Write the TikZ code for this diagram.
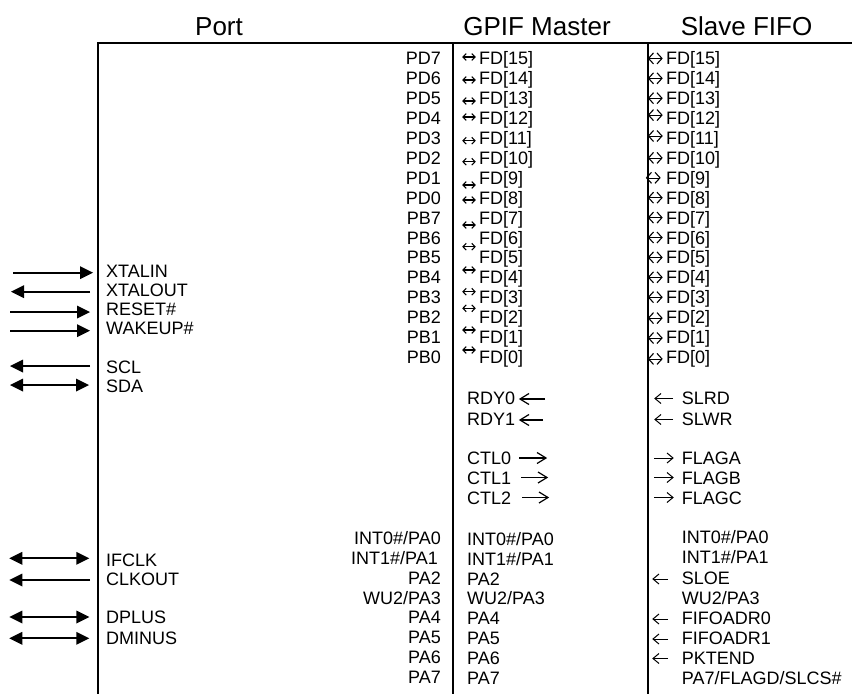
\documentclass[tikz,border=0pt]{standalone}
\usepackage{fontspec}
\setmainfont{Liberation Sans}
\usetikzlibrary{arrows.meta}
\newcommand\bodyfont{\fontsize{18}{20}\selectfont}
\newcommand\headfont{\fontsize{26}{30}\selectfont}
% filled triangle head: x, y, direction (1 = right, -1 = left)
\newcommand\trihead[3]{\fill ({#1},{#2}) -- ({#1-13*#3},{#2-6.5}) -- ({#1-13*#3},{#2+6.5}) -- cycle;}
% open chevron head: x, y, direction, length, half height, line width
\newcommand\chevhead[6]{\draw[line width=#6,line join=miter,line cap=butt] ({#1-#3*#4},{#2-#5}) -- ({#1},{#2}) -- ({#1-#3*#4},{#2+#5});}
\begin{document}
\begin{tikzpicture}[x=1pt,y=-1pt,
  lr/.style={anchor=base east, inner sep=0pt, font=\bodyfont},
  ll/.style={anchor=base west, inner sep=0pt, font=\bodyfont},
  hd/.style={anchor=base, inner sep=0pt, font=\headfont},
  frame/.style={line width=1.6pt},
  bigline/.style={line width=1.7pt},
  gline/.style={line width=1.1pt},
  sline/.style={line width=0.6pt},
  tline/.style={line width=1.2pt},
  shline/.style={line width=1pt}
]
\useasboundingbox (0,0) rectangle (852,694);
% frame
\draw[frame] (97,43) -- (852,43);
\draw[frame] (98,43) -- (98,694);
\draw[frame] (452.7,43) -- (452.7,694);
\draw[frame] (647.7,43) -- (647.7,694);
% headers
\node[hd] (hport) at (219,35) {Port};
\node[hd] (hgpif) at (537,35) {GPIF Master};
\node[hd] (hslave) at (746.6,35) {Slave FIFO};
% data rows
\foreach \pl/\fd [count=\i from 0] in {PD7/15,PD6/14,PD5/13,PD4/12,PD3/11,PD2/10,PD1/9,PD0/8,PB7/7,PB6/6,PB5/5,PB4/4,PB3/3,PB2/2,PB1/1,PB0/0}{
  \pgfmathsetmacro\yb{58.4+19.9*\i+6.5}
  \node[lr] (p\i) at (441,\yb) {\pl};
  \node[ll] (g\i) at (479,\yb) {FD[\fd]};
  \node[ll] (s\i) at (666,\yb) {FD[\fd]};
}
% GPIF small arrows
\foreach \yy [count=\i] in {57,80,101,117,140.7,161.7,185,200,225,246.7,270,291.7,308.3,330,350}{
  \coordinate (gal\i) at (463,\yy);
  \coordinate (gar\i) at (475,\yy);
  \draw[gline] (gal\i) -- (gar\i);
  \chevhead{463}{\yy}{-1}{3.2}{3.4}{1.1pt}
  \chevhead{475}{\yy}{1}{3.2}{3.4}{1.1pt}
}
% Slave arrows
\foreach \dy/\dx [count=\i from 0] in {0/0,0/0,0/0,-3/0,-2/0,0/0,0/-2,0/0,0/0,0/0,0/0,0/0,0/0,1/0,1/0,2/0}{
  \pgfmathsetmacro\ya{58.4+19.9*\i+\dy}
  \pgfmathsetmacro\xa{648.5+\dx}
  \pgfmathsetmacro\xb{662+\dx}
  \coordinate (sal\i) at (\xa,\ya);
  \coordinate (sar\i) at (\xb,\ya);
  \draw[sline] (sal\i) -- (sar\i);
  \chevhead{\xa}{\ya}{-1}{5}{5.5}{1.1pt}
  \chevhead{\xb}{\ya}{1}{5}{5.5}{1.1pt}
}
% left signals
\foreach \nm/\txt/\yc in {xin/XTALIN/271,xout/XTALOUT/290,rst/RESET\#/308.5,wak/WAKEUP\#/328,scl/SCL/367,sda/SDA/385.5,ifc/IFCLK/560,clk/CLKOUT/579,dp/DPLUS/617,dm/DMINUS/638}{
  \node[ll] (\nm) at (106,\yc+6.5) {\txt};
}
% right-pointing
\foreach \nm/\xa/\xb/\yy in {xin/13/93/272.7,rst/10/90/312,wak/10/90/330.7}{
  \coordinate (\nm A) at (\xa,\yy); \coordinate (\nm B) at (\xb-10,\yy);
  \draw[bigline] (\nm A) -- (\nm B);
  \trihead{\xb}{\yy}{1}
}
% left-pointing
\foreach \nm/\xa/\xb/\yy in {xout/90/11/291.7,scl/90/10/366,clk/90/9.3/580}{
  \coordinate (\nm A) at (\xa,\yy); \coordinate (\nm B) at (\xb+10,\yy);
  \draw[bigline] (\nm A) -- (\nm B);
  \trihead{\xb}{\yy}{-1}
}
% double
\foreach \nm/\xa/\xb/\yy in {sda/10/89/385,ifc/9.3/89.3/558.3,dp/9.3/89.3/617,dm/9.3/89.3/638.3}{
  \coordinate (\nm A) at (\xa+10,\yy); \coordinate (\nm B) at (\xb-10,\yy);
  \draw[bigline] (\nm A) -- (\nm B);
  \trihead{\xa}{\yy}{-1}
  \trihead{\xb}{\yy}{1}
}
% GPIF control
\node[ll] (rdy0) at (467,398+6.5) {RDY0};
\node[ll] (rdy1) at (467,419+6.5) {RDY1};
\node[ll] (ctl0) at (467,458+6.5) {CTL0};
\node[ll] (ctl1) at (467,477.5+6.5) {CTL1};
\node[ll] (ctl2) at (467,497.5+6.5) {CTL2};
\foreach \nm/\xs/\xt/\yy in {rA/545/520/399,rB/543/520/420}{
  \coordinate (\nm s) at (\xs,\yy); \coordinate (\nm t) at (\xt,\yy);
  \draw[tline] (\nm s) -- (\nm t);
  \chevhead{\xt}{\yy}{-1}{9}{5.5}{1.2pt}
}
\foreach \nm/\xs/\xt/\yy in {cA/519/546/458,cB/521/547/477.5,cC/522/548/497.5}{
  \coordinate (\nm s) at (\xs,\yy); \coordinate (\nm t) at (\xt,\yy);
  \draw[tline] (\nm s) -- (\nm t);
  \chevhead{\xt}{\yy}{1}{9}{5.5}{1.2pt}
}
% Slave control
\node[ll] (slrd) at (681.7,398+6.5) {SLRD};
\node[ll] (slwr) at (681.7,419+6.5) {SLWR};
\node[ll] (fla) at (681.7,458+6.5) {FLAGA};
\node[ll] (flb) at (681.7,477.5+6.5) {FLAGB};
\node[ll] (flc) at (681.7,497.5+6.5) {FLAGC};
% bottom port A
\node[lr] (pa0) at (441,538+6.5) {INT0\#/PA0};
\node[lr] (pa1) at (438,558+6.5) {INT1\#/PA1};
\node[lr] (pa2) at (441,578+6.5) {PA2};
\node[lr] (pa3) at (441,597.5+6.5) {WU2/PA3};
\node[lr] (pa4) at (441,617+6.5) {PA4};
\node[lr] (pa5) at (441,637+6.5) {PA5};
\node[lr] (pa6) at (441,657+6.5) {PA6};
\node[lr] (pa7) at (441,677+6.5) {PA7};
\node[ll] (ga0) at (467,539+6.5) {INT0\#/PA0};
\node[ll] (ga1) at (467,559+6.5) {INT1\#/PA1};
\node[ll] (ga2) at (467,578.5+6.5) {PA2};
\node[ll] (ga3) at (467,598+6.5) {WU2/PA3};
\node[ll] (ga4) at (467,618+6.5) {PA4};
\node[ll] (ga5) at (467,638+6.5) {PA5};
\node[ll] (ga6) at (467,658+6.5) {PA6};
\node[ll] (ga7) at (467,678+6.5) {PA7};
\node[ll] (sa0) at (681.7,537+6.5) {INT0\#/PA0};
\node[ll] (sa1) at (681.7,557+6.5) {INT1\#/PA1};
\node[ll] (sa2) at (681.7,578+6.5) {SLOE};
\node[ll] (sa3) at (681.7,598+6.5) {WU2/PA3};
\node[ll] (sa4) at (681.7,618+6.5) {FIFOADR0};
\node[ll] (sa5) at (681.7,638+6.5) {FIFOADR1};
\node[ll] (sa6) at (681.7,658+6.5) {PKTEND};
\node[ll] (sa7) at (681.7,678+6.5) {PA7/FLAGD/SLCS\#};
% slave single arrows: name/start/tip/y/dir
\foreach \nm/\xs/\xt/\yy/\dd in {srd/673/655/398.5/-1,swr/673/655/419.5/-1,fa/654/673/458/1,fb/654/673/477.5/1,fc/654/673/497.5/1,so/668/653/579/-1,fo/668/653/619/-1,fi/668/653/639/-1,pk/668/653/658.5/-1}{
  \coordinate (\nm s) at (\xs,\yy); \coordinate (\nm t) at (\xt,\yy);
  \draw[shline] (\nm s) -- (\nm t);
  \chevhead{\xt}{\yy}{\dd}{6}{5}{1pt}
}
\end{tikzpicture}
\end{document}
